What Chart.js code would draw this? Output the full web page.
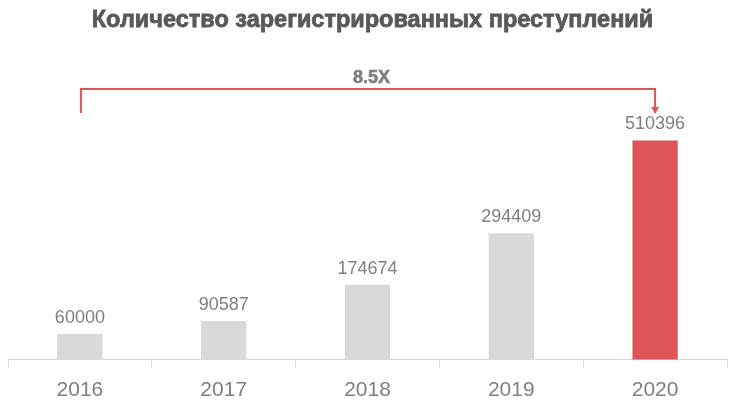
<!DOCTYPE html>
<html>
<head>
<meta charset="utf-8">
<script src="https://cdn.jsdelivr.net/npm/chart.js@4/dist/chart.umd.min.js"></script>
<style>
  html, body { margin: 0; padding: 0; background: #fff; }
  #wrap { width: 741px; height: 414px; }
</style>
</head>
<body>
<div id="wrap"><canvas id="chart" width="741" height="414"></canvas></div>
<script>
'use strict';

// ── Данные ────────────────────────────────────────────────
const years = ['2016', '2017', '2018', '2019', '2020'];
const crimes = [60000, 90587, 174674, 294409, 510396];
const growthLabel = '8.5X';
const titleText = 'Количество зарегистрированных преступлений';

const GRAY = '#d9d9d9';
const RED = '#df5457';
const TEXT = '#7f7f7f';

// ── Подписи значений над столбцами ───────────────────────
const valueLabels = {
    id: 'valueLabels',
    afterDatasetsDraw(chart) {
        const ctx = chart.ctx;
        const meta = chart.getDatasetMeta(0);
        ctx.save();
        ctx.font = '18px "Liberation Sans", Arial, sans-serif';
        ctx.fillStyle = TEXT;
        ctx.textAlign = 'center';
        ctx.textBaseline = 'bottom';
        meta.data.forEach((bar, i) => {
            ctx.fillText(String(crimes[i]), bar.x, bar.y - 7);
        });
        ctx.restore();
    }
};

// ── Заголовок и скобка роста ─────────────────────────────
const header = {
    id: 'header',
    afterDraw(chart) {
        const ctx = chart.ctx;
        const x = chart.scales.x;
        const x0 = x.getPixelForValue(0);
        const x1 = x.getPixelForValue(years.length - 1);
        ctx.save();

        ctx.font = 'bold 23.5px "Liberation Sans", Arial, sans-serif';
        ctx.fillStyle = '#595959';
        ctx.strokeStyle = '#595959';
        ctx.lineWidth = 0.8;
        ctx.textAlign = 'center';
        ctx.textBaseline = 'alphabetic';
        ctx.fillText(titleText, chart.width / 2 + 2, 27);
        ctx.strokeText(titleText, chart.width / 2 + 2, 27);

        ctx.strokeStyle = RED;
        ctx.lineWidth = 2;
        ctx.beginPath();
        ctx.moveTo(x0 + 1, 113);
        ctx.lineTo(x0 + 1, 89);
        ctx.lineTo(x1, 89);
        ctx.lineTo(x1, 108);
        ctx.stroke();
        ctx.fillStyle = RED;
        ctx.beginPath();
        ctx.moveTo(x1 - 4, 107);
        ctx.lineTo(x1 + 4, 107);
        ctx.lineTo(x1, 114);
        ctx.closePath();
        ctx.fill();

        ctx.font = 'bold 18px "Liberation Sans", Arial, sans-serif';
        ctx.fillStyle = TEXT;
        ctx.strokeStyle = TEXT;
        ctx.lineWidth = 0.6;
        ctx.textBaseline = 'alphabetic';
        ctx.fillText(growthLabel, (x0 + x1) / 2 + 4, 83);
        ctx.strokeText(growthLabel, (x0 + x1) / 2 + 4, 83);
        ctx.restore();
    }
};

new Chart(document.getElementById('chart'), {
    type: 'bar',
    data: {
        labels: years,
        datasets: [{
            data: crimes,
            backgroundColor: crimes.map((v, i) => i === crimes.length - 1 ? RED : GRAY),
            categoryPercentage: 1,
            barPercentage: 0.315,
        }]
    },
    options: {
        responsive: false,
        animation: false,
        layout: { padding: { top: 102, left: 8, right: 14, bottom: 1 } },
        plugins: {
            legend: { display: false },
            title: { display: false },
            tooltip: { enabled: false }
        },
        scales: {
            x: {
                grid: { drawOnChartArea: false, tickLength: 8, color: GRAY, offset: true },
                border: { color: GRAY },
                ticks: {
                    color: TEXT,
                    padding: 10,
                    font: { family: '"Liberation Sans", Arial, sans-serif', size: 21 }
                }
            },
            y: {
                display: false,
                min: 0,
                max: 600000
            }
        }
    },
    plugins: [valueLabels, header]
});
</script>
</body>
</html>
